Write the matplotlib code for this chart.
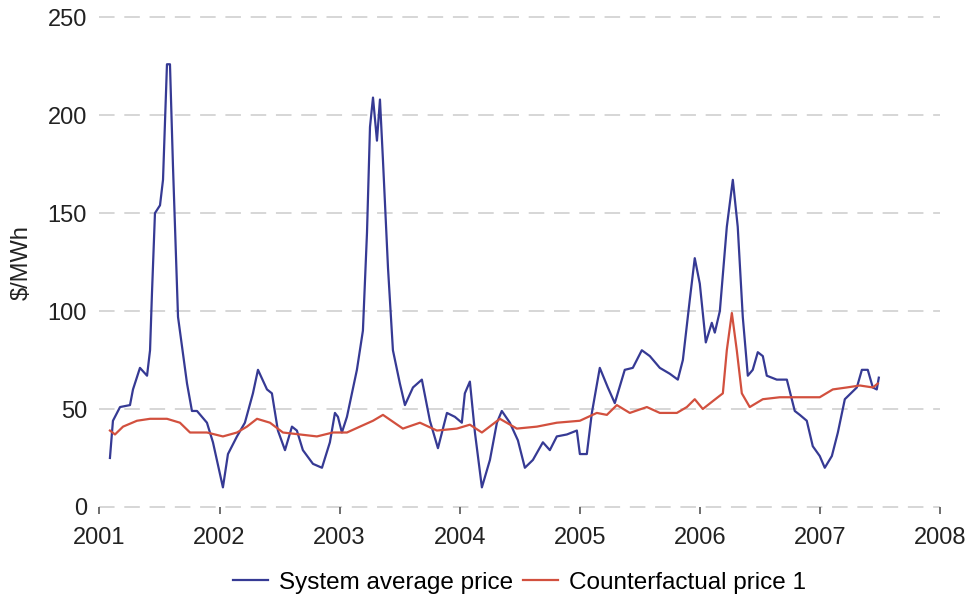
import matplotlib
matplotlib.use("Agg")
import matplotlib.pyplot as plt

plt.rcParams["font.family"] = ["Liberation Sans", "DejaVu Sans"]

# Weekly-smoothed system average price ($/MWh), by decimal year
system_years = [
    2001.087, 2001.112, 2001.171, 2001.254, 2001.279, 2001.337, 2001.396, 2001.421,
    2001.437, 2001.462, 2001.504, 2001.529, 2001.562, 2001.587, 2001.612, 2001.654,
    2001.729, 2001.770, 2001.812, 2001.895, 2001.945, 2002.028, 2002.070, 2002.145,
    2002.211, 2002.278, 2002.320, 2002.395, 2002.436, 2002.486, 2002.545, 2002.603,
    2002.644, 2002.694, 2002.778, 2002.853, 2002.919, 2002.961, 2002.986, 2003.019,
    2003.061, 2003.144, 2003.194, 2003.228, 2003.253, 2003.278, 2003.311, 2003.336,
    2003.361, 2003.403, 2003.444, 2003.502, 2003.544, 2003.611, 2003.685, 2003.752,
    2003.819, 2003.894, 2003.960, 2004.018, 2004.043, 2004.085, 2004.127, 2004.185,
    2004.252, 2004.310, 2004.351, 2004.418, 2004.485, 2004.543, 2004.610, 2004.693,
    2004.751, 2004.809, 2004.893, 2004.976, 2005.001, 2005.059, 2005.101, 2005.167,
    2005.234, 2005.292, 2005.375, 2005.442, 2005.517, 2005.584, 2005.667, 2005.750,
    2005.817, 2005.859, 2005.917, 2005.958, 2006.000, 2006.050, 2006.100, 2006.125,
    2006.167, 2006.225, 2006.275, 2006.316, 2006.358, 2006.400, 2006.441, 2006.483,
    2006.525, 2006.558, 2006.641, 2006.725, 2006.791, 2006.833, 2006.891, 2006.941,
    2006.999, 2007.041, 2007.100, 2007.150, 2007.208, 2007.258, 2007.308, 2007.350,
    2007.399, 2007.441, 2007.474, 2007.491,
]
system_price = [
    25, 44, 51, 52, 60, 71, 67, 80,
    109, 150, 154, 167, 226, 226, 174, 97,
    63, 49, 49, 43, 33, 10, 27, 36,
    43, 58, 70, 60, 58, 39, 29, 41,
    39, 29, 22, 20, 33, 48, 46, 38,
    46, 70, 90, 140, 194, 209, 187, 208,
    177, 122, 80, 63, 52, 61, 65, 44,
    30, 48, 46, 43, 58, 64, 38, 10,
    24, 43, 49, 43, 34, 20, 24, 33,
    29, 36, 37, 39, 27, 27, 48, 71,
    61, 53, 70, 71, 80, 77, 71, 68,
    65, 75, 106, 127, 114, 84, 94, 89,
    100, 143, 167, 143, 97, 67, 70, 79,
    77, 67, 65, 65, 49, 47, 44, 31,
    26, 20, 26, 38, 55, 58, 61, 70,
    70, 61, 60, 66,
]

# Counterfactual price 1 ($/MWh), by decimal year
counter_years = [
    2001.087, 2001.129, 2001.196, 2001.312, 2001.421, 2001.562, 2001.670, 2001.754,
    2001.895, 2002.028, 2002.145, 2002.228, 2002.312, 2002.420, 2002.528, 2002.669,
    2002.811, 2002.944, 2003.061, 2003.169, 2003.278, 2003.361, 2003.527, 2003.669,
    2003.810, 2003.977, 2004.085, 2004.185, 2004.335, 2004.476, 2004.643, 2004.809,
    2005.001, 2005.142, 2005.226, 2005.309, 2005.417, 2005.559, 2005.667, 2005.809,
    2005.892, 2005.958, 2006.025, 2006.108, 2006.192, 2006.225, 2006.267, 2006.308,
    2006.350, 2006.416, 2006.525, 2006.666, 2006.891, 2006.999, 2007.108, 2007.225,
    2007.333, 2007.441, 2007.483,
]
counter_price = [
    39, 37, 41, 44, 45, 45, 43, 38,
    38, 36, 38, 41, 45, 43, 38, 37,
    36, 38, 38, 41, 44, 47, 40, 43,
    39, 40, 42, 38, 45, 40, 41, 43,
    44, 48, 47, 52, 48, 51, 48, 48,
    51, 55, 50, 54, 58, 80, 99, 80,
    58, 51, 55, 56, 56, 56, 60, 61,
    62, 61, 63,
]

year_ticks = [2001, 2002, 2003, 2004, 2005, 2006, 2007, 2008]
price_ticks = [0, 50, 100, 150, 200, 250]

fig = plt.figure(figsize=(9.66, 5.95), dpi=100)
ax = fig.add_axes([0.103, 0.148, 0.870, 0.823])

ax.plot(system_years, system_price, color="#363a94", lw=1.6,
        label="System average price", zorder=3)
ax.plot(counter_years, counter_price, color="#d2503e", lw=1.6,
        label="Counterfactual price 1", zorder=4)

ax.set_xlim(2001, 2008)
ax.set_ylim(0, 250)
ax.set_xticks(year_ticks)
ax.set_xticklabels([str(y) for y in year_ticks])
ax.set_yticks(price_ticks)

for v in price_ticks:
    ax.axhline(v, color="#d6d6d6", lw=1.4, dashes=(8, 5), zorder=1, clip_on=False)

for s in ax.spines.values():
    s.set_visible(False)

ax.tick_params(axis="y", length=0, pad=9, labelsize=17, labelcolor="#222222")
ax.tick_params(axis="x", length=5, width=1.2, color="#555555", pad=9.5,
               labelsize=17, labelcolor="#222222")

ax.set_ylabel("$/MWh", fontsize=17, color="#222222")
ax.yaxis.set_label_coords(-0.080, 0.5)

# Legend centred under the plotting area
fig.legend(loc="center", bbox_to_anchor=(0.538, 0.021), ncol=2, frameon=False,
           fontsize=17.5, handlelength=1.45, columnspacing=0.4, handletextpad=0.45)

fig.savefig("out.png", dpi=100, facecolor="white")
